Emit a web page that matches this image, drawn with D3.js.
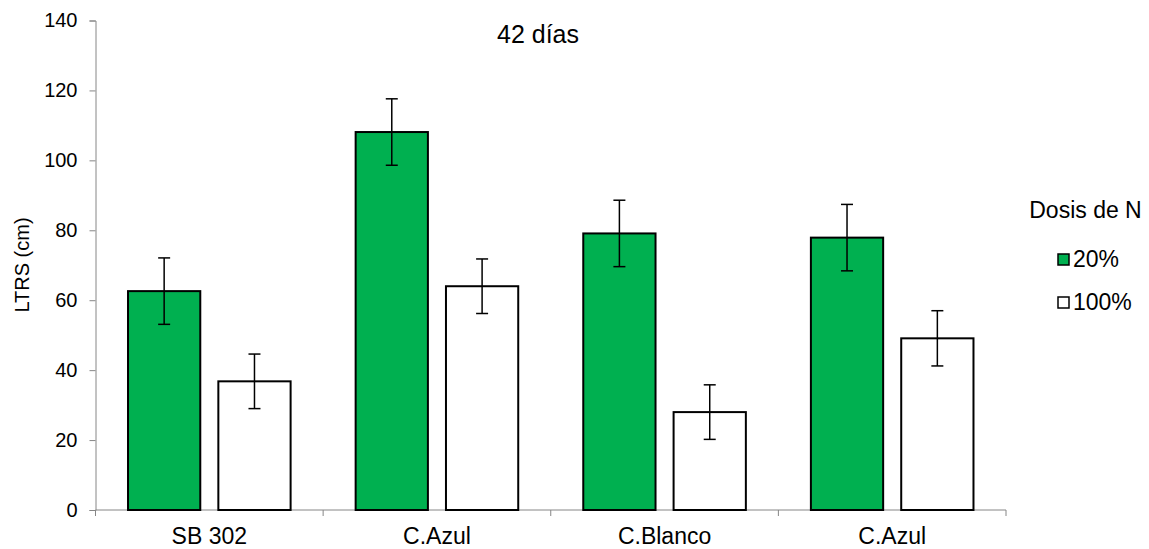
<!DOCTYPE html>
<html>
<head>
  <meta charset="utf-8">
  <title>42 días</title>
  <script src="https://d3js.org/d3.v7.min.js"></script>
  <style>
    body { margin: 0; background: #fff; }
    text { font-family: "Liberation Sans", Arial, sans-serif; fill: #000; }
  </style>
</head>
<body>
  <svg id="chart"></svg>

  <script>
    // datos
    var categorias = ["SB 302", "C.Azul", "C.Blanco", "C.Azul"];
    var dosis = ["20%", "100%"];
    var valores20 = [62.6, 108.1, 79.1, 77.9];
    var valores100 = [36.8, 64.0, 28.0, 49.1];
    var error20 = [9.5, 9.5, 9.5, 9.5];
    var error100 = [7.8, 7.8, 7.8, 7.9];
    var ticksY = [0, 20, 40, 60, 80, 100, 120, 140];

    var width = 1149, height = 549;
    var colores = ["#00B050", "#FFFFFF"];
    var gris = "#868686";

    var svg = d3.select("#chart")
      .attr("width", width)
      .attr("height", height);

    // escalas
    var y = d3.scaleLinear().domain([0, 140]).range([510, 20.5]);
    var x = d3.scaleBand()
      .domain(d3.range(categorias.length))
      .range([95.5, 1006])
      .padding(0);
    var xSerie = d3.scaleBand()
      .domain(dosis)
      .range([0, x.bandwidth()])
      .paddingInner(0.2)
      .paddingOuter(0.36);

    // eje Y
    var ejeY = svg.append("g")
      .attr("transform", "translate(95.5,0)")
      .call(d3.axisLeft(y).tickValues(ticksY).tickSize(6).tickPadding(12));
    ejeY.select(".domain").attr("stroke", gris);
    ejeY.selectAll(".tick line").attr("stroke", gris);
    ejeY.selectAll(".tick text").style("font-size", "20px").attr("fill", "#000");

    // eje X (marcas entre categorías)
    var ejeX = svg.append("g")
      .attr("transform", "translate(0,510)");
    ejeX.append("line")
      .attr("x1", x.range()[0]).attr("x2", x.range()[1])
      .attr("stroke", gris);
    ejeX.selectAll(".marca")
      .data(d3.range(categorias.length + 1))
      .enter().append("line")
      .attr("class", "marca")
      .attr("x1", function(i) { return i < categorias.length ? x(i) : x.range()[1]; })
      .attr("x2", function(i) { return i < categorias.length ? x(i) : x.range()[1]; })
      .attr("y1", 0).attr("y2", 6)
      .attr("stroke", gris);
    ejeX.selectAll(".etiqueta")
      .data(categorias)
      .enter().append("text")
      .attr("class", "etiqueta")
      .attr("x", function(d, i) { return x(i) + x.bandwidth() / 2; })
      .attr("y", 34)
      .attr("text-anchor", "middle")
      .style("font-size", "23px")
      .text(function(d) { return d; });

    // barras
    var series = [
      { nombre: dosis[0], valores: valores20, errores: error20, color: colores[0] },
      { nombre: dosis[1], valores: valores100, errores: error100, color: colores[1] }
    ];

    series.forEach(function(s) {
      var g = svg.append("g");
      g.selectAll("rect")
        .data(s.valores)
        .enter().append("rect")
        .attr("x", function(d, i) { return x(i) + xSerie(s.nombre); })
        .attr("y", function(d) { return y(d); })
        .attr("width", xSerie.bandwidth())
        .attr("height", function(d) { return y(0) - y(d); })
        .attr("fill", s.color)
        .attr("stroke", "#000")
        .attr("stroke-width", 2);

      // barras de error
      s.valores.forEach(function(v, i) {
        var cx = x(i) + xSerie(s.nombre) + xSerie.bandwidth() / 2;
        var e = s.errores[i];
        g.append("line")
          .attr("x1", cx).attr("x2", cx)
          .attr("y1", y(v + e)).attr("y2", y(v - e))
          .attr("stroke", "#000").attr("stroke-width", 1.5);
        [v + e, v - e].forEach(function(t) {
          g.append("line")
            .attr("x1", cx - 6).attr("x2", cx + 6)
            .attr("y1", y(t)).attr("y2", y(t))
            .attr("stroke", "#000").attr("stroke-width", 1.5);
        });
      });
    });

    // título
    svg.append("text")
      .attr("x", 538).attr("y", 43)
      .attr("text-anchor", "middle")
      .style("font-size", "25px")
      .text("42 días");

    // título eje Y
    svg.append("text")
      .attr("transform", "translate(29,265) rotate(-90)")
      .attr("text-anchor", "middle")
      .style("font-size", "20px")
      .text("LTRS (cm)");

    // leyenda
    var leyenda = svg.append("g");
    leyenda.append("text")
      .attr("x", 1085.5).attr("y", 218)
      .attr("text-anchor", "middle")
      .style("font-size", "23px")
      .text("Dosis de N");
    var item = leyenda.selectAll(".item")
      .data(series)
      .enter().append("g")
      .attr("class", "item")
      .attr("transform", function(d, i) { return "translate(1058," + (254 + i * 43) + ")"; });
    item.append("rect")
      .attr("width", 11).attr("height", 11)
      .attr("fill", function(d) { return d.color; })
      .attr("stroke", "#000")
      .attr("stroke-width", 1.5);
    item.append("text")
      .attr("x", 15).attr("y", 12.5)
      .style("font-size", "23px")
      .text(function(d) { return d.nombre; });
  </script>
</body>
</html>
